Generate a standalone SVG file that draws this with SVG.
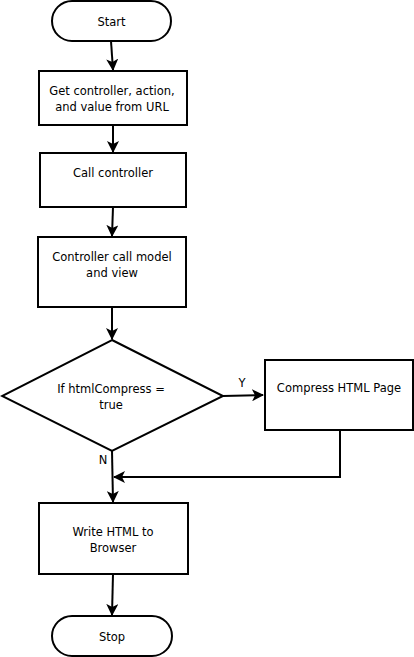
<svg xmlns="http://www.w3.org/2000/svg" width="414" height="657" viewBox="0 0 414 657">
<defs>
<marker id="ah" viewBox="0 0 12 12" refX="11" refY="6" markerWidth="12" markerHeight="12" markerUnits="userSpaceOnUse" orient="auto">
<path d="M0,0 L12,6 L0,12 L3,6 Z" fill="#000"/>
</marker>
<style>
.n{fill:#fff;stroke:#000;stroke-width:2}
.t{font-family:"DejaVu Sans",Verdana,sans-serif;font-size:11.5px;fill:#000;text-anchor:middle}
.c{fill:none;stroke:#000;stroke-width:2;marker-end:url(#ah)}
</style>
</defs>
<rect width="414" height="657" fill="#fff"/>
<g id="connectors">
<path class="c" d="M111,41 L113,70"/>
<path class="c" d="M113,125 L113,152"/>
<path class="c" d="M113,207 L112,236"/>
<path class="c" d="M112,307 L112,339"/>
<path class="c" d="M223,396 L263,395"/>
<path class="c" d="M112,451 L113,502"/>
<path class="c" d="M340,430 L340,477 L114,477"/>
<path class="c" d="M113,574 L112,615"/>
</g>
<g id="start"><rect class="n" x="52" y="1" width="119" height="40" rx="20"/><text class="t" x="111.5" y="26">Start</text></g>
<g id="get"><rect class="n" x="39" y="71" width="148" height="54"/><text class="t" x="112" y="95">Get controller, action,</text><text class="t" x="112" y="111">and value from URL</text></g>
<g id="call"><rect class="n" x="40" y="153" width="146" height="54"/><text class="t" x="113" y="177">Call controller</text></g>
<g id="model"><rect class="n" x="38" y="237" width="148" height="70"/><text class="t" x="112" y="261">Controller call model</text><text class="t" x="112" y="277">and view</text></g>
<g id="decision"><path class="n" d="M112,340 L223,396 L112,451 L2,396 Z"/><text class="t" x="111" y="393">If htmlCompress =</text><text class="t" x="111" y="409">true</text></g>
<g id="compress"><rect class="n" x="265" y="360" width="148" height="70"/><text class="t" x="339" y="392">Compress HTML Page</text></g>
<g id="write"><rect class="n" x="39" y="503" width="149" height="71"/><text class="t" x="113" y="536">Write HTML to</text><text class="t" x="113" y="552">Browser</text></g>
<g id="stop"><rect class="n" x="52" y="616" width="120" height="40" rx="20"/><text class="t" x="112" y="641">Stop</text></g>
<g id="labels"><text class="t" x="242" y="387">Y</text><text class="t" x="103" y="464">N</text></g>
</svg>
